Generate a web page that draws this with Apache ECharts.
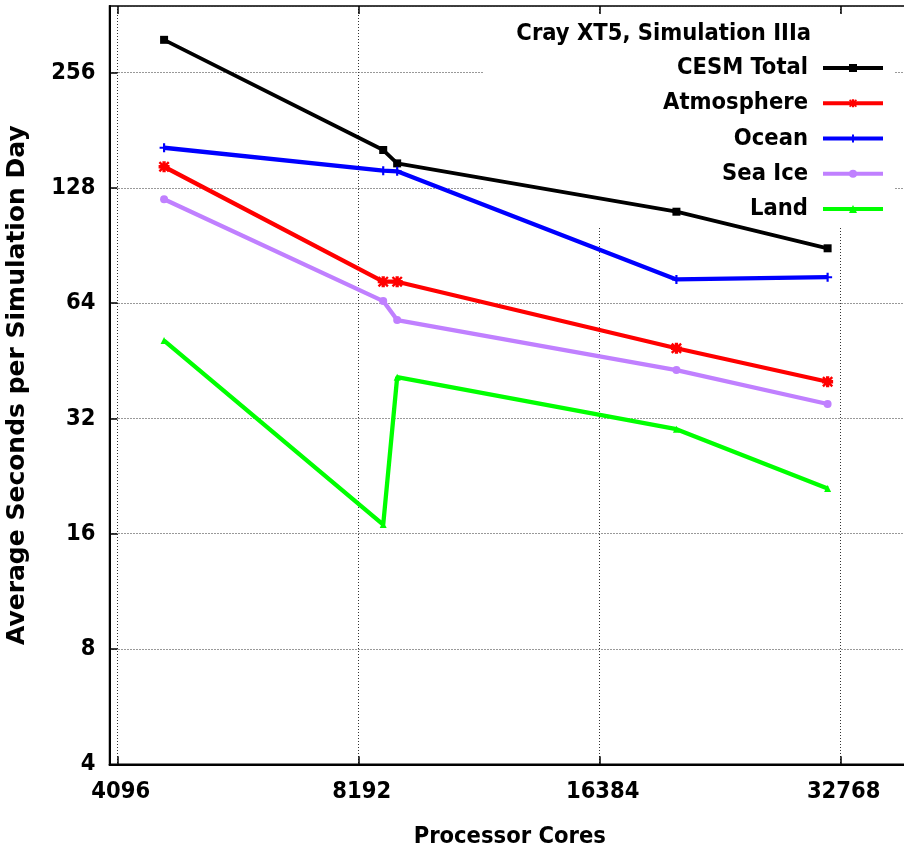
<!DOCTYPE html>
<html>
<head>
<meta charset="utf-8">
<script src="https://cdn.jsdelivr.net/npm/echarts@6/dist/echarts.min.js"></script>
<style>
  html, body { margin: 0; padding: 0; background: #fff; }
  #chart { width: 904px; height: 851px; }
</style>
</head>
<body>
<div id="chart"></div>
<script>
// Processor core counts for each run
const cores = [4680, 8790, 9150, 20430, 31560];

// Average seconds per simulated day, per component
const cesmTotal  = [311.7, 160.7, 148.3, 110.9, 89.0];
const atmosphere = [145.3, 72.8, 72.8, 48.8, 39.9];
const ocean      = [162.9, 141.9, 141.4, 73.8, 74.8];
const seaIce     = [119.5, 64.8, 57.8, 42.8, 34.9];
const land       = [51.1, 16.9, 41.0, 30.0, 21.0];

// Labelled ticks on both log2 axes
const xTicks = [4096, 8192, 16384, 32768];
const yTicks = [4, 8, 16, 32, 64, 128, 256];

const narrowBold = "'Liberation Sans Narrow', 'Arial Narrow', 'DejaVu Sans Condensed', sans-serif";
const textSize = 23.5;

// Marker shapes
const plusPath = 'path://M0,3.8H10V6.2H0Z M3.8,0H6.2V10H3.8Z';
const starPath = 'path://M0,3.5H10V6.5H0Z M3.5,0H6.5V10H3.5Z M1.5,0L10,8.5L8.5,10L0,1.5Z M8.5,0L10,1.5L1.5,10L0,8.5Z';

function pairs(values) {
  return cores.map((c, i) => [c, values[i]]);
}

function lineSeries(name, values, color, symbol, symbolSize, width) {
  return {
    name: name,
    type: 'line',
    data: pairs(values),
    symbol: symbol,
    symbolSize: symbolSize,
    showSymbol: true,
    color: color,
    itemStyle: { color: color },
    lineStyle: { color: color, width: width },
    emphasis: { disabled: true },
    z: 3
  };
}

const chart = echarts.init(document.getElementById('chart'));

const dotted = { color: '#333', width: 1, type: [1, 2] };

chart.setOption({
  animation: false,
  backgroundColor: '#fff',
  grid: {
    left: 109.5,
    top: 6,
    width: 800.5,
    height: 758.3,
    show: true,
    borderColor: '#000',
    borderWidth: 1.5,
    containLabel: false,
    outerBoundsMode: 'none'
  },
  legend: {
    orient: 'vertical',
    align: 'right',
    right: 19,
    top: 55,
    padding: 0,
    itemWidth: 60,
    itemHeight: 10,
    itemGap: 9.25,
    selectedMode: false,
    lineStyle: { width: 4 },
    textStyle: {
      fontFamily: narrowBold,
      fontWeight: 'bold',
      fontSize: textSize,
      lineHeight: 26,
      color: '#000',
      padding: [0, 10, 0, 0]
    },
    data: ['CESM Total', 'Atmosphere', 'Ocean', 'Sea Ice', 'Land']
  },
  xAxis: [{
    type: 'log',
    logBase: 2,
    min: 4000,
    max: 40000,
    position: 'bottom',
    name: 'Processor Cores',
    nameLocation: 'middle',
    nameGap: 61,
    nameTextStyle: { fontFamily: narrowBold, fontWeight: 'bold', fontSize: textSize, color: '#000' },
    axisLine: { show: true, lineStyle: { color: '#000', width: 2 } },
    axisTick: { show: true, inside: true, length: 8, lineStyle: { color: '#000', width: 1.5 } },
    axisLabel: {
      margin: 16,
      fontFamily: narrowBold,
      fontWeight: 'bold',
      fontSize: textSize,
      color: '#000',
      padding: [0, 0, 0, 6],
      showMinLabel: false,
      showMaxLabel: false,
      formatter: v => xTicks.includes(Math.round(v)) ? String(Math.round(v)) : ''
    },
    splitLine: { show: true, lineStyle: dotted }
  }, {
    type: 'log',
    logBase: 2,
    min: 4000,
    max: 40000,
    position: 'top',
    axisLine: { show: false },
    axisTick: { show: true, inside: true, length: 8, lineStyle: { color: '#000', width: 1.5 } },
    axisLabel: { show: false },
    splitLine: { show: false }
  }],
  yAxis: {
    type: 'log',
    logBase: 2,
    min: 4,
    max: 382,
    position: 'left',
    name: 'Average Seconds per Simulation Day',
    nameLocation: 'middle',
    nameGap: 80,
    nameTextStyle: { fontFamily: "'DejaVu Sans', sans-serif", fontWeight: 'bold', fontSize: 25, color: '#000' },
    axisLine: { show: true, lineStyle: { color: '#000', width: 2 } },
    axisTick: { show: true, inside: true, length: 8, lineStyle: { color: '#000', width: 1.5 } },
    axisLabel: {
      margin: 14,
      fontFamily: narrowBold,
      fontWeight: 'bold',
      fontSize: textSize,
      color: '#000',
      showMaxLabel: false,
      formatter: v => yTicks.includes(Math.round(v)) ? String(Math.round(v)) : ''
    },
    splitLine: { show: true, lineStyle: dotted }
  },
  graphic: [{
    // opaque key area: hides the grid behind the key, lines still pass over it
    type: 'rect',
    z: 1,
    shape: { x: 483, y: 15, width: 412, height: 212 },
    style: { fill: '#fff' },
    silent: true
  }, {
    type: 'text',
    z: 5,
    x: 811,
    y: 33.5,
    style: {
      text: 'Cray XT5, Simulation IIIa',
      align: 'right',
      verticalAlign: 'middle',
      fill: '#000',
      font: 'bold ' + textSize + 'px ' + narrowBold
    },
    silent: true
  }],
  series: [
    lineSeries('CESM Total', cesmTotal, '#000000', 'rect', 8, 3.8),
    lineSeries('Atmosphere', atmosphere, '#ff0000', starPath, 11, 4.3),
    lineSeries('Ocean', ocean, '#0000ff', plusPath, 9, 4.3),
    lineSeries('Sea Ice', seaIce, '#c080ff', 'circle', 8, 4.3),
    lineSeries('Land', land, '#00ff00', 'triangle', 7, 4.3)
  ]
});
</script>
</body>
</html>
